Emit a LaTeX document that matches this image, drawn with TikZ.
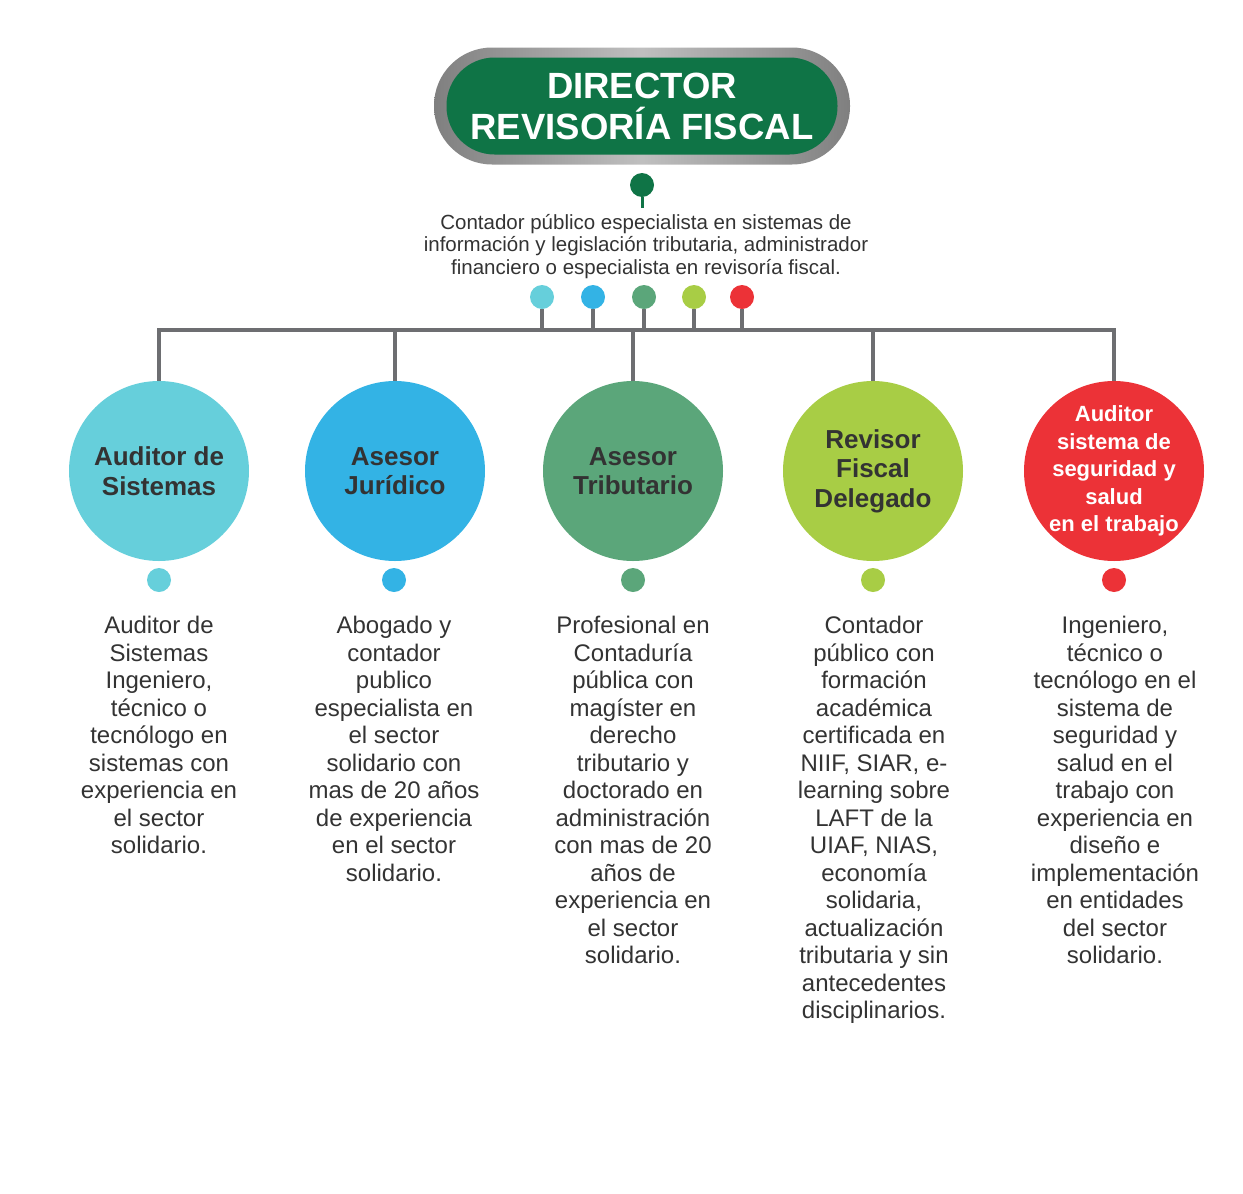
\documentclass[tikz,border=0pt]{standalone}
\usepackage{fontspec}
\setmainfont{Liberation Sans}
\definecolor{txtgray}{HTML}{333333}
\definecolor{linegray}{HTML}{6D6E71}
\definecolor{dirgreen}{HTML}{0F7446}
\definecolor{cyanc}{HTML}{66CFDB}
\definecolor{bluec}{HTML}{33B3E5}
\definecolor{greenc}{HTML}{5BA67A}
\definecolor{limec}{HTML}{A8CD45}
\definecolor{redc}{HTML}{EC3237}
\tikzset{
  area/.style={circle, minimum size=180pt, inner sep=0pt, align=center, text=txtgray, font={\fontsize{26}{29.5}\selectfont\bfseries}},
  dot/.style={circle, minimum size=24pt, inner sep=0pt},
  desc/.style={anchor=north, align=center, inner sep=0pt, text=txtgray, font={\fontsize{24}{27.5}\selectfont}},
  wire/.style={linegray, line width=4pt},
}
\begin{document}
\begin{tikzpicture}[x=1pt,y=-1pt]
  \useasboundingbox (0,0) rectangle (1243,1194);
  % director
  \node[rectangle, rounded corners=58pt, minimum width=416pt, minimum height=117pt, left color=black!50, right color=black!50, middle color=black!25] (frame) at (642,106) {};
  \node[rectangle, rounded corners=48pt, fill=dirgreen, minimum width=391pt, minimum height=97pt, text=white, align=center, font={\fontsize{36.5}{41}\selectfont\bfseries}] (dir) at (642,106) {DIRECTOR\\REVISORÍA FISCAL};
  \node[dot, fill=dirgreen] (pin) at (642,185) {};
  \coordinate (pinend) at (642,208);
  \draw[dirgreen, line width=3pt] (pin) -- (pinend);
  \node[desc, font={\fontsize{20.5}{22.5}\selectfont}] (perfil) at (646,214) {Contador público especialista en sistemas de\\información y legislación tributaria, administrador\\financiero o especialista en revisoría fiscal.};
  % areas
  \node[area, fill=cyanc] (a1) at (159,471) {Auditor de\\Sistemas};
  \node[area, fill=bluec] (a2) at (395,471) {Asesor\\Jurídico};
  \node[area, fill=greenc] (a3) at (633,471) {Asesor\\Tributario};
  \node[area, fill=limec] (a4) at (873,471) {Revisor\\Fiscal\\Delegado};
  \node[area, fill=redc, inner sep=-12pt, text=white, font={\fontsize{22}{27.5}\selectfont\bfseries}] (a5) at (1114,471) {Auditor\\sistema de\\seguridad y\\salud\\en el trabajo};
  % bar
  \coordinate (barR) at (1114,330);
  \draw[wire] (a1.north) |- (barR) -- (a5.north);
  \foreach \i in {2,3,4}
    \draw[wire] (a\i.north) -- (a\i.north |- barR);
  \foreach \x/\c/\i in {542/cyanc/1, 593/bluec/2, 644/greenc/3, 694/limec/4, 742/redc/5} {
    \node[dot, fill=\c] (t\i) at (\x,297) {};
    \coordinate (b\i) at (\x,330);
    \draw[wire] (t\i) -- (b\i);
  }
  \foreach \x/\c/\i in {159/cyanc/1, 394/bluec/2, 633/greenc/3, 873/limec/4, 1114/redc/5}
    \node[dot, fill=\c] (s\i) at (\x,580) {};
  % descriptions
  \node[desc] (d1) at (159,616) {Auditor de\\Sistemas\\Ingeniero,\\técnico o\\tecnólogo en\\sistemas con\\experiencia en\\el sector\\solidario.};
  \node[desc] (d2) at (394,616) {Abogado y\\contador\\publico\\especialista en\\el sector\\solidario con\\mas de 20 años\\de experiencia\\en el sector\\solidario.};
  \node[desc] (d3) at (633,616) {Profesional en\\Contaduría\\pública con\\magíster en\\derecho\\tributario y\\doctorado en\\administración\\con mas de 20\\años de\\experiencia en\\el sector\\solidario.};
  \node[desc] (d4) at (874,616) {Contador\\público con\\formación\\académica\\certificada en\\NIIF, SIAR, e-\\learning sobre\\LAFT de la\\UIAF, NIAS,\\economía\\solidaria,\\actualización\\tributaria y sin\\antecedentes\\disciplinarios.};
  \node[desc] (d5) at (1115,616) {Ingeniero,\\técnico o\\tecnólogo en el\\sistema de\\seguridad y\\salud en el\\trabajo con\\experiencia en\\diseño e\\implementación\\en entidades\\del sector\\solidario.};
\end{tikzpicture}
\end{document}
